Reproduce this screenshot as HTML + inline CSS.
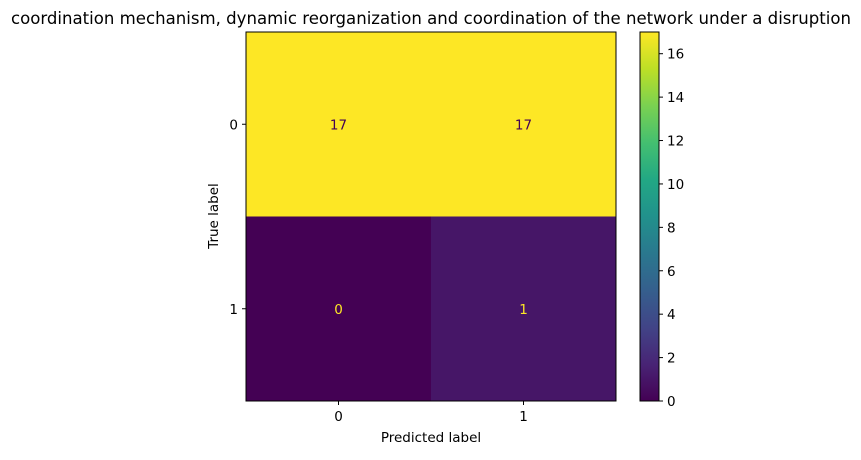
<!DOCTYPE html>
<html><head><meta charset="utf-8"><style>
body{margin:0;background:#fff;width:861px;height:455px;overflow:hidden}
svg{font-family:"DejaVu Sans","Liberation Sans",sans-serif}
</style></head><body>
<svg id="chart" width="861" height="455" xmlns="http://www.w3.org/2000/svg">
<defs><linearGradient id="vir" x1="0" y1="1" x2="0" y2="0">
<stop offset="0" stop-color="#440154"/><stop offset="0.1" stop-color="#482475"/><stop offset="0.2" stop-color="#414487"/><stop offset="0.3" stop-color="#355f8d"/><stop offset="0.4" stop-color="#2a788e"/><stop offset="0.5" stop-color="#21918c"/><stop offset="0.6" stop-color="#22a884"/><stop offset="0.7" stop-color="#44bf70"/><stop offset="0.8" stop-color="#7ad151"/><stop offset="0.9" stop-color="#bddf26"/><stop offset="1" stop-color="#fde725"/>
</linearGradient></defs>
<text x="431" y="24" font-size="16.5" text-anchor="middle" textLength="840" lengthAdjust="spacingAndGlyphs">coordination mechanism, dynamic reorganization and coordination of the network under a disruption</text>
<g id="cells"></g>
<rect x="246" y="32" width="370" height="369" fill="none" stroke="#000" stroke-width="1"/>
<g id="axes"></g>
<text x="431" y="442" font-size="13.5" text-anchor="middle">Predicted label</text>
<text transform="translate(218,216) rotate(-90)" font-size="13.5" text-anchor="middle">True label</text>
<rect x="640" y="32" width="19" height="369" fill="url(#vir)" stroke="#000" stroke-width="1"/>
<g id="cbar"></g>
</svg>
<script>
const classes = ["0","1"];
const matrix = [[17,17],[0,1]];
const cbarTicks = [0,2,4,6,8,10,12,14,16];
const ns="http://www.w3.org/2000/svg";
const L=246,T=32,W=370,H=369;
const vmax=Math.max(...matrix.flat()), vmin=Math.min(...matrix.flat());
const stops=[[68,1,84],[72,36,117],[65,68,135],[53,95,141],[42,120,142],[33,145,140],[34,168,132],[68,191,112],[122,209,81],[189,223,38],[253,231,37]];
function viridis(t){t=Math.max(0,Math.min(1,t))*10;const i=Math.min(9,Math.floor(t)),f=t-i;const a=stops[i],b=stops[i+1];return `rgb(${a.map((v,k)=>Math.round(v+(b[k]-v)*f)).join(',')})`;}
function el(tag,attrs,parent,txt){const e=document.createElementNS(ns,tag);for(const k in attrs)e.setAttribute(k,attrs[k]);if(txt!==undefined)e.textContent=txt;parent.appendChild(e);return e;}
const n=classes.length,cw=W/n,ch=H/n;
const cells=document.getElementById('cells'),axes=document.getElementById('axes'),cb=document.getElementById('cbar');
matrix.forEach((row,r)=>row.forEach((v,c)=>{
 const t=(v-vmin)/(vmax-vmin||1);
 const rc=el('rect',{x:L+c*cw,y:T+r*ch,width:cw+0.5,height:ch+0.5,fill:viridis(t)},cells);
 
 
 const tx=el('text',{x:L+c*cw+cw/2,y:T+r*ch+ch/2+5,'font-size':13.5,'text-anchor':'middle',fill:t>0.5?'#440154':'#fde725'},cells,String(v));
 
 
}));
classes.forEach((c,i)=>{
 const x=L+i*cw+cw/2;
 el('line',{x1:x,x2:x,y1:T+H,y2:T+H+4,stroke:'#000'},axes);
 const xt=el('text',{x:x,y:T+H+20,'font-size':13.5,'text-anchor':'middle'},axes,c);
 
 
 const y=T+i*ch+ch/2;
 el('line',{x1:L-4,x2:L,y1:y,y2:y,stroke:'#000'},axes);
 const yt=el('text',{x:L-8,y:y+5,'font-size':13.5,'text-anchor':'end'},axes,c);
 
 
});
cbarTicks.forEach(v=>{
 const y=T+H-(v-vmin)/(vmax-vmin)*H;
 el('line',{x1:659,x2:663,y1:y,y2:y,stroke:'#000'},cb);
 const t=el('text',{x:667,y:y+5,'font-size':13.5},cb,String(v));
 
 
});
</script>
</body></html>
